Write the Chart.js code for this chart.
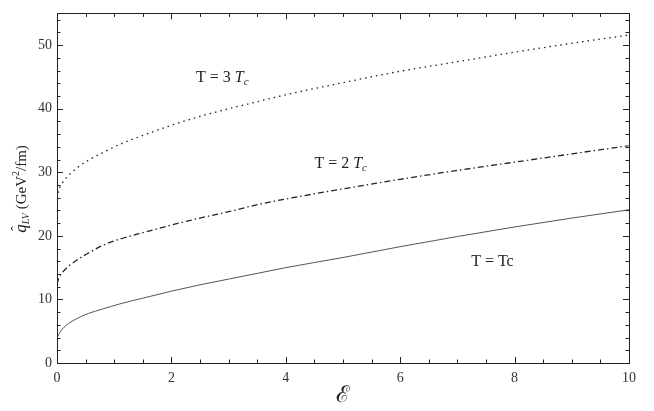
<!DOCTYPE html>
<html>
<head>
<meta charset="utf-8">
<script src="https://cdn.jsdelivr.net/npm/chart.js@4"></script>
<style>
html,body{margin:0;padding:0;background:#fff;}
#wrap{width:654px;height:411px;position:relative;}
</style>
</head>
<body>
<div id="wrap"><canvas id="c" width="654" height="411"></canvas></div>
<script>
// Data
const epsilon = [0, 0.03, 0.1, 0.2, 0.35, 0.55, 0.8, 1.1, 1.5, 2, 2.5, 3, 3.5, 4, 5, 6, 7, 8, 9, 10];
const qTc  = [3.85, 4.5, 5.4, 6.2, 7.0, 7.8, 8.5, 9.3, 10.2, 11.3, 12.3, 13.2, 14.1, 15.0, 16.6, 18.3, 19.9, 21.4, 22.8, 24.1];
const q2Tc = [12.4, 13.3, 14.3, 15.2, 16.2, 17.3, 18.5, 19.5, 20.5, 21.7, 22.8, 23.8, 24.9, 25.8, 27.4, 28.9, 30.3, 31.6, 32.9, 34.2];
const q3Tc = [25.9, 27.2, 28.4, 29.5, 30.7, 31.9, 33.1, 34.4, 35.8, 37.4, 38.8, 40.0, 41.1, 42.2, 44.1, 45.9, 47.4, 48.9, 50.3, 51.6];
const xTicks = [0, 2, 4, 6, 8, 10];
const yTicks = [0, 10, 20, 30, 40, 50];
const curveLabels = [
  {pre: "T = 3 ", it: "T", sub: "c", x: 2.43, y: 44.2},
  {pre: "T = 2 ", it: "T", sub: "c", x: 4.5, y: 30.6},
  {pre: "T = Tc", it: "", sub: "", x: 7.24, y: 15.2}
];

const pts = (ys) => epsilon.map((x, i) => ({x: x, y: ys[i]}));

const serif = "'Liberation Serif','DejaVu Serif',serif";

const framePlugin = {
  id: 'frame',
  afterDraw(chart) {
    const ctx = chart.ctx, a = chart.chartArea;
    const xs = chart.scales.x, ys = chart.scales.y;
    ctx.save();
    ctx.strokeStyle = '#222';
    ctx.lineWidth = 1;
    ctx.strokeRect(Math.round(a.left) + 0.5, Math.round(a.top) + 0.5, Math.round(a.right - a.left), Math.round(a.bottom - a.top));
    // inward ticks
    ctx.beginPath();
    for (let v = 0; v <= 10.0001; v += 0.5) {
      const px = Math.round(xs.getPixelForValue(v)) + 0.5;
      const major = Math.abs(v / 2 - Math.round(v / 2)) < 1e-6;
      const L = major ? 6 : 3.5;
      ctx.moveTo(px, a.bottom); ctx.lineTo(px, a.bottom - L);
      ctx.moveTo(px, a.top); ctx.lineTo(px, a.top + L);
    }
    for (let v = 0; v <= 55.0001; v += 2) {
      const py = Math.round(ys.getPixelForValue(v)) + 0.5;
      const major = v % 10 === 0;
      const L = major ? 6 : 3.5;
      ctx.moveTo(a.left, py); ctx.lineTo(a.left + L, py);
      ctx.moveTo(a.right, py); ctx.lineTo(a.right - L, py);
    }
    ctx.stroke();

    // curve labels
    ctx.fillStyle = '#222';
    ctx.textBaseline = 'alphabetic';
    ctx.textAlign = 'left';
    curveLabels.forEach(l => {
      let px = xs.getPixelForValue(l.x), py = ys.getPixelForValue(l.y);
      ctx.font = "16px " + serif;
      ctx.fillText(l.pre, px, py);
      px += ctx.measureText(l.pre).width;
      if (l.it) {
        ctx.font = "italic 16px " + serif;
        ctx.fillText(l.it, px, py);
        px += ctx.measureText(l.it).width;
        ctx.font = "italic 11px " + serif;
        ctx.fillText(l.sub, px, py + 3);
      }
    });

    // x title
    ctx.font = "23px 'DejaVu Serif',serif";
    ctx.textAlign = 'center';
    ctx.fillText("\u2130", (a.left + a.right) / 2, 402);

    // y title (rotated)
    ctx.save();
    ctx.translate(21, 189);
    ctx.rotate(-Math.PI / 2);
    const parts = [
      {t: "q", f: "italic 17px " + serif, dy: 0},
      {t: "LV", f: "italic 10px " + serif, dy: 3},
      {t: " (GeV", f: "15px " + serif, dy: 0},
      {t: "2", f: "10px " + serif, dy: -7},
      {t: "/fm)", f: "15px " + serif, dy: 0}
    ];
    let total = 0;
    parts.forEach(p => { ctx.font = p.f; p.w = ctx.measureText(p.t).width; total += p.w; });
    let cx = -total / 2;
    ctx.textAlign = 'left';
    parts.forEach((p, i) => {
      ctx.font = p.f;
      ctx.fillText(p.t, cx, 5 + p.dy);
      if (i === 0) {
        ctx.font = "14px " + serif;
        ctx.fillText("\u02C6", cx + 2, 0);
      }
      cx += p.w;
    });
    ctx.restore();
    ctx.restore();
  }
};

new Chart(document.getElementById('c'), {
  type: 'line',
  data: {
    datasets: [
      {label: 'T = Tc', data: pts(qTc), borderColor: '#555', borderWidth: 1, pointRadius: 0, cubicInterpolationMode: 'monotone', fill: false},
      {label: 'T = 2 Tc', data: pts(q2Tc), borderColor: '#222', borderWidth: 1.3, borderDash: [6, 3, 1.5, 3], pointRadius: 0, cubicInterpolationMode: 'monotone', fill: false},
      {label: 'T = 3 Tc', data: pts(q3Tc), borderColor: '#222', borderWidth: 1.3, borderDash: [1.5, 4], pointRadius: 0, cubicInterpolationMode: 'monotone', fill: false}
    ]
  },
  options: {
    responsive: false,
    animation: false,
    layout: {padding: {top: 10, right: 25, left: 0, bottom: 0}},
    plugins: {legend: {display: false}, tooltip: {enabled: false}},
    scales: {
      x: {
        type: 'linear', min: 0, max: 10,
        afterBuildTicks: s => { s.ticks = xTicks.map(v => ({value: v})); },
        afterFit: s => { s.height = 48; },
        grid: {display: false, drawTicks: false},
        border: {display: false},
        ticks: {color: '#333', font: {family: serif, size: 14}, padding: 7, maxRotation: 0}
      },
      y: {
        type: 'linear', min: 0, max: 55,
        afterBuildTicks: s => { s.ticks = yTicks.map(v => ({value: v})); },
        afterFit: s => { s.width = 57; },
        grid: {display: false, drawTicks: false},
        border: {display: false},
        ticks: {color: '#333', font: {family: serif, size: 14}, padding: 5}
      }
    }
  },
  plugins: [framePlugin]
});
</script>
</body>
</html>
